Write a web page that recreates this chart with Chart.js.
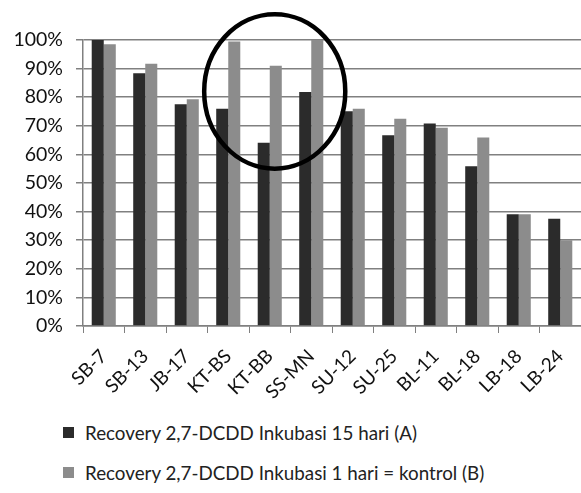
<!DOCTYPE html>
<html>
<head>
<meta charset="utf-8">
<script src="https://cdn.jsdelivr.net/npm/chart.js@4/dist/chart.umd.min.js"></script>
<style>
  body { margin: 0; background: #fff; font-family: Lato, sans-serif; }
  #wrap { position: relative; width: 581px; height: 410px; }
  #legend { position: absolute; left: 63px; top: 421px; font-size: 18.8px; color: #222; }
  .item { display: flex; align-items: center; height: 22px; margin-bottom: 18px; }
  .box { width: 11px; height: 11px; margin-right: 11px; }
</style>
</head>
<body>
<div id="wrap"><canvas id="chartCanvas"></canvas></div>
<div id="legend"></div>
<script>
const categories = ["SB-7", "SB-13", "JB-17", "KT-BS", "KT-BB", "SS-MN", "SU-12", "SU-25", "BL-11", "BL-18", "LB-18", "LB-24"];
const seriesA = [100, 88.4, 77.5, 76.0, 64.1, 81.8, 75.1, 66.7, 70.8, 55.9, 39.1, 37.5];
const seriesB = [98.5, 91.7, 79.3, 99.5, 91.0, 100, 76.0, 72.5, 69.3, 65.9, 39.1, 30.0];
const seriesNames = ["Recovery 2,7-DCDD Inkubasi 15 hari (A)", "Recovery 2,7-DCDD Inkubasi 1 hari = kontrol (B)"];
const colors = ["#2b2b2b", "#8c8c8c"];

// circle drawn round KT-BS .. SS-MN
const circlePlugin = {
  id: "circle",
  afterDatasetsDraw(chart) {
    const x = chart.scales.x;
    const y = chart.scales.y;
    const cw = x.getPixelForValue(1) - x.getPixelForValue(0);
    const cx = x.getPixelForValue(4) + 0.12 * cw;
    const cy = y.getPixelForValue(82);
    const ry = y.getPixelForValue(55) - cy;
    const ctx = chart.ctx;
    ctx.save();
    ctx.beginPath();
    ctx.ellipse(cx, cy, 1.7 * cw, ry, 0, 0, Math.PI * 2);
    ctx.lineWidth = 4.5;
    ctx.strokeStyle = "#000";
    ctx.stroke();
    ctx.restore();
  }
};

new Chart(document.getElementById("chartCanvas"), {
  type: "bar",
  data: {
    labels: categories,
    datasets: [
      { label: seriesNames[0], data: seriesA, backgroundColor: colors[0] },
      { label: seriesNames[1], data: seriesB, backgroundColor: colors[1] },
    ],
  },
  options: {
    responsive: true,
    maintainAspectRatio: false,
    animation: false,
    categoryPercentage: 0.58,
    barPercentage: 1.0,
    layout: { padding: { top: 40, right: 0, bottom: 5, left: 4 } },
    plugins: {
      legend: { display: false },
      tooltip: { enabled: false },
    },
    scales: {
      x: {
        afterFit: (s) => { s.height = 79; s.paddingRight = 0; s.paddingLeft = 0; },
        grid: { drawOnChartArea: false, drawTicks: true, tickLength: 7, color: "#808080" },
        border: { color: "#808080", width: 1.5 },
        ticks: { maxRotation: 45, minRotation: 45, color: "#111", font: { family: "Lato", size: 19 }, padding: 12 },
      },
      y: {
        min: 0,
        max: 100,
        afterFit: (s) => { s.width = 79; },
        grid: { color: "#808080", lineWidth: 1.5, drawTicks: true, tickLength: 7 },
        border: { color: "#808080", width: 1.5 },
        ticks: {
          stepSize: 10,
          color: "#111",
          padding: 13,
          font: { family: "Lato", size: 19.5 },
          callback: (v) => v + "%",
        },
      },
    },
  },
  plugins: [circlePlugin],
});

const legend = document.getElementById("legend");
seriesNames.forEach((name, i) => {
  const item = document.createElement("div");
  item.className = "item";
  item.innerHTML = '<span class="box" style="background:' + colors[i] + '"></span><span>' + name + "</span>";
  legend.appendChild(item);
});
</script>
</body>
</html>
